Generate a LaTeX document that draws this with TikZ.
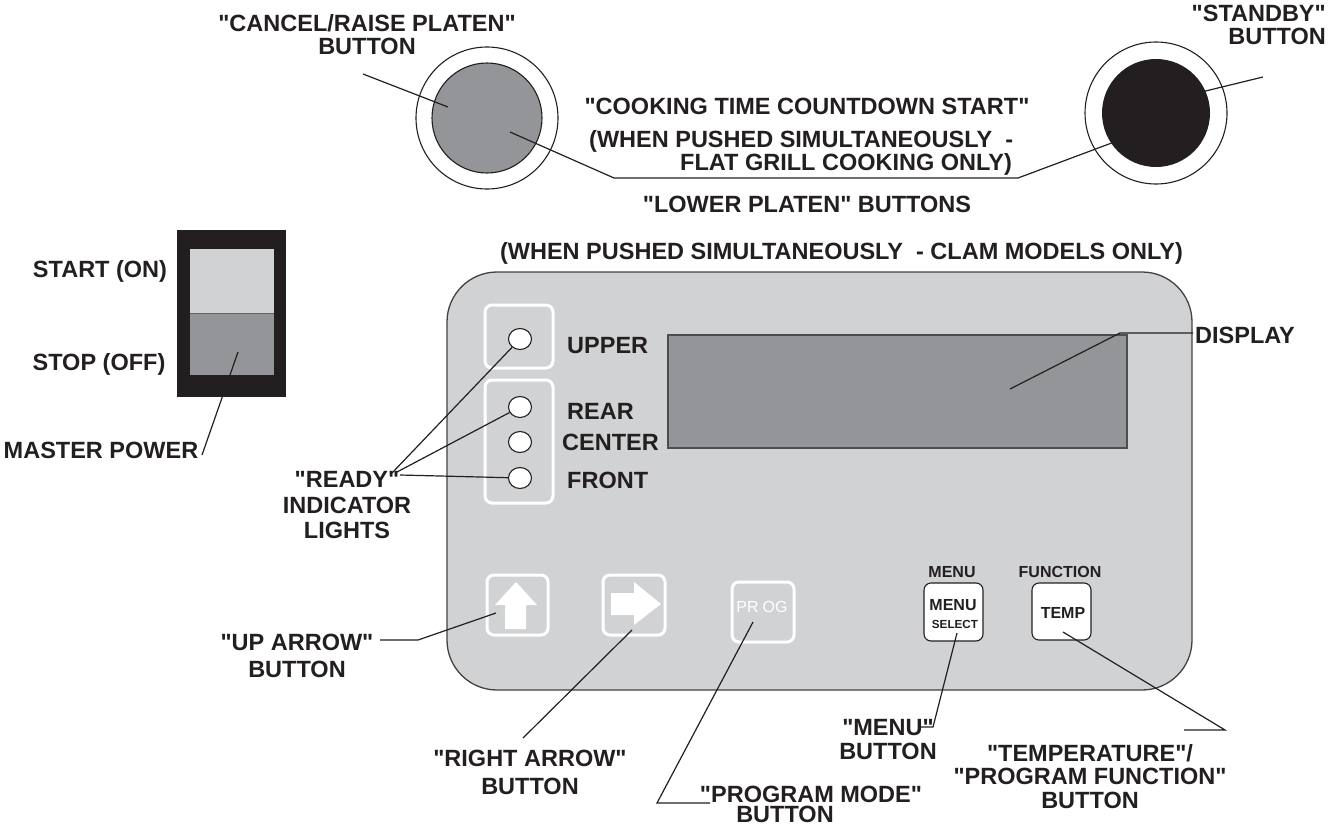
\documentclass[tikz,border=0pt]{standalone}
\usepackage{fontspec}
\newfontfamily\labfont{Liberation Sans}
\usetikzlibrary{shapes.geometric}
\definecolor{ink}{HTML}{231F20}
\definecolor{panelgray}{HTML}{D1D2D4}
\definecolor{midgray}{HTML}{939598}
\begin{document}
\begin{tikzpicture}[x=1pt,y=-1pt,
  lbl/.style={font=\labfont\fontsize{23.5}{23}\selectfont\bfseries, text=ink, inner sep=0pt},
  small/.style={font=\labfont\fontsize{16}{16}\selectfont\bfseries, text=ink, inner sep=0pt},
  lead/.style={draw=ink, line width=1.2pt},
  led/.style={ellipse, draw=ink, fill=white, line width=1.1pt, minimum width=23pt, minimum height=21pt, inner sep=0pt},
  whitebox/.style={draw=white, line width=3pt, rounded corners=7pt, inner sep=0pt},
  keybtn/.style={draw=ink, fill=white, line width=1.1pt, rounded corners=7pt, inner sep=0pt},
  ring/.style={circle, draw=ink, line width=1.1pt, fill=white, minimum size=142pt, inner sep=0pt},
]
\useasboundingbox (0,0) rectangle (1328,825);

% ---------- master power switch ----------
\fill[ink] (177,230) rectangle (286,397);
\fill[panelgray] (190,249) rectangle (274,313);
\fill[midgray] (190,313) rectangle (274,375);
\draw[ink!70, line width=0.8pt] (190,313) -- (274,313);
\node[lbl] (start) at (100,271.5) {START (ON)};
\node[lbl] (stop) at (99,364.5) {STOP (OFF)};
\node[lbl] (mp) at (101,450) {MASTER POWER};
\coordinate (mpIn) at (238,352);
\coordinate (mpOut) at (202,455);
\draw[lead] (mpIn) -- (mpOut);

% ---------- top buttons ----------
\node[ring] (cancelRing) at (487,118) {};
\node[circle, draw=ink, line width=1.1pt, fill=midgray, minimum size=110pt, inner sep=0pt] (cancelBtn) at (487,118) {};
\node[ring] (standbyRing) at (1156,113) {};
\node[circle, fill=ink, minimum size=108pt, inner sep=0pt] (standbyBtn) at (1156,113) {};

\node[lbl, align=center] (cancelLbl) at (367,34.5) {"CANCEL/RAISE PLATEN"\\BUTTON};
\coordinate (cancelTail) at (363,74);
\coordinate (cancelTip) at (448,107);
\draw[lead] (cancelTail) -- (cancelTip);

\node[lbl, align=right, anchor=east] (standbyLbl) at (1326,24.5) {"STANDBY"\\BUTTON};
\coordinate (sbTail) at (1263,77);
\coordinate (sbTip) at (1185,96);
\draw[lead] (sbTail) -- (sbTip);

\coordinate (lpA) at (510,132);
\coordinate (lpB) at (614,178);
\coordinate (lpC) at (1018,178);
\coordinate (lpD) at (1125,138);
\draw[lead] (lpA) -- (lpB) -- (lpC) -- (lpD);

\node[lbl] (cook1) at (807,106) {"COOKING TIME COUNTDOWN START"};
\node[lbl, anchor=west] (cook2) at (589,141.3) {(WHEN PUSHED SIMULTANEOUSLY\ \ -};
\node[lbl, anchor=east] (cook3) at (1012,164.3) {FLAT GRILL COOKING ONLY)};
\node[lbl] (lower) at (807,204) {"LOWER PLATEN" BUTTONS};
\node[lbl] (clam) at (841.5,253.3) {(WHEN PUSHED SIMULTANEOUSLY\ \ - CLAM MODELS ONLY)};

% ---------- control panel ----------
\draw[fill=panelgray, draw=ink!85, line width=1.3pt, rounded corners=50pt] (447,272) rectangle (1192,690);

\draw[whitebox] (485,305) rectangle (553,368);
\draw[whitebox] (485,380) rectangle (553,503);
\node[led] (ledU) at (520,339) {};
\node[led] (ledR) at (520,407) {};
\node[led] (ledC) at (520,442) {};
\node[led] (ledF) at (520,478) {};
\node[lbl, anchor=west] (upperLbl) at (567,346) {UPPER};
\node[lbl, anchor=west] (rearLbl) at (567,411) {REAR};
\node[lbl, anchor=west] (centerLbl) at (562,442) {CENTER};
\node[lbl, anchor=west] (frontLbl) at (567,480) {FRONT};

\node[draw=ink!80, line width=1.1pt, fill=midgray, minimum width=459pt, minimum height=113pt, inner sep=0pt] (display) at (897.5,391.5) {};
\coordinate (dispTip) at (1010,389);
\coordinate (dispKnee) at (1120,333);
\coordinate (dispEnd) at (1193,333);
\draw[lead] (dispTip) -- (dispKnee) -- (dispEnd);
\node[lbl, anchor=west] (dispLbl) at (1195,335) {DISPLAY};

% ready indicator
\node[lbl, align=center, font=\labfont\fontsize{23.5}{25.5}\selectfont\bfseries] (readyLbl) at (347,505.5) {"READY"\\INDICATOR\\LIGHTS};
\coordinate (rdy1) at (392,473);
\coordinate (rdy2) at (397,472);
\coordinate (rdy3) at (400,475);
\draw[lead] (rdy1) -- (ledU);
\draw[lead] (rdy2) -- (ledR);
\draw[lead] (rdy3) -- (ledF);

% arrow buttons
\node[whitebox, minimum width=61pt, minimum height=60pt] (upBtn) at (517.5,605) {};
\fill[white] (516,582) -- (537,605) -- (526,605) -- (526,629) -- (505,629) -- (505,605) -- (495,605) -- cycle;
\node[whitebox, minimum width=62pt, minimum height=60pt] (rightBtn) at (634,605) {};
\fill[white] (611,593) -- (634,593) -- (634,582) -- (661,604) -- (634,625) -- (634,615) -- (611,615) -- cycle;
\node[whitebox, minimum width=62pt, minimum height=60pt] (progBtn) at (763,612) {};
\node[font=\labfont\fontsize{16}{16}\selectfont, text=white, inner sep=0pt] (progTxt) at (762,607) {PR\hspace{4pt}OG};

% menu / temp
\node[small] (menuTop) at (952,572) {MENU};
\node[small] (funcTop) at (1060,572) {FUNCTION};
\node[keybtn, minimum width=59pt, minimum height=58pt] (menuBtn) at (953.5,612) {};
\node[small] (menuTxt) at (953,605) {MENU};
\node[font=\labfont\fontsize{11.7}{12}\selectfont\bfseries, text=ink, inner sep=0pt] (selTxt) at (955,624) {SELECT};
\node[keybtn, minimum width=59pt, minimum height=57pt] (tempBtn) at (1061.5,611.5) {};
\node[small] (tempTxt) at (1063,613) {TEMP};

% ---------- lower labels ----------
\coordinate (upTip) at (496,613);
\coordinate (upKnee) at (418,640);
\coordinate (upEnd) at (380,640);
\draw[lead] (upTip) -- (upKnee) -- (upEnd);
\node[lbl, align=center, font=\labfont\fontsize{23.5}{27}\selectfont\bfseries] (upLbl) at (297,655.5) {"UP ARROW"\\BUTTON};

\coordinate (raTip) at (632,630);
\coordinate (raEnd) at (523,738);
\draw[lead] (raTip) -- (raEnd);
\node[lbl, align=center, font=\labfont\fontsize{23.5}{28}\selectfont\bfseries] (raLbl) at (530,772) {"RIGHT ARROW"\\BUTTON};

\coordinate (progTip) at (753,622);
\coordinate (progKnee) at (657,803);
\coordinate (progEnd) at (710,803);
\draw[lead] (progTip) -- (progKnee) -- (progEnd);
\node[lbl] (progLbl1) at (811,794.5) {"PROGRAM MODE"};
\node[lbl] (progLbl2) at (785,814.5) {BUTTON};

\coordinate (menuTip) at (957,633);
\coordinate (menuKnee) at (933,727);
\coordinate (menuEnd) at (918,727);
\draw[lead] (menuTip) -- (menuKnee) -- (menuEnd);
\node[lbl, align=center, font=\labfont\fontsize{23.5}{24}\selectfont\bfseries] (menuLbl) at (888,740) {"MENU"\\BUTTON};

\coordinate (tempTip) at (1063,632);
\coordinate (tempKnee) at (1225,730);
\coordinate (tempEnd) at (1184,730);
\draw[lead] (tempTip) -- (tempKnee) -- (tempEnd);
\node[lbl, align=center, font=\labfont\fontsize{23.5}{23.5}\selectfont\bfseries] (tempLbl) at (1090,776.5) {"TEMPERATURE"/\\"PROGRAM FUNCTION"\\BUTTON};
\end{tikzpicture}
\end{document}
